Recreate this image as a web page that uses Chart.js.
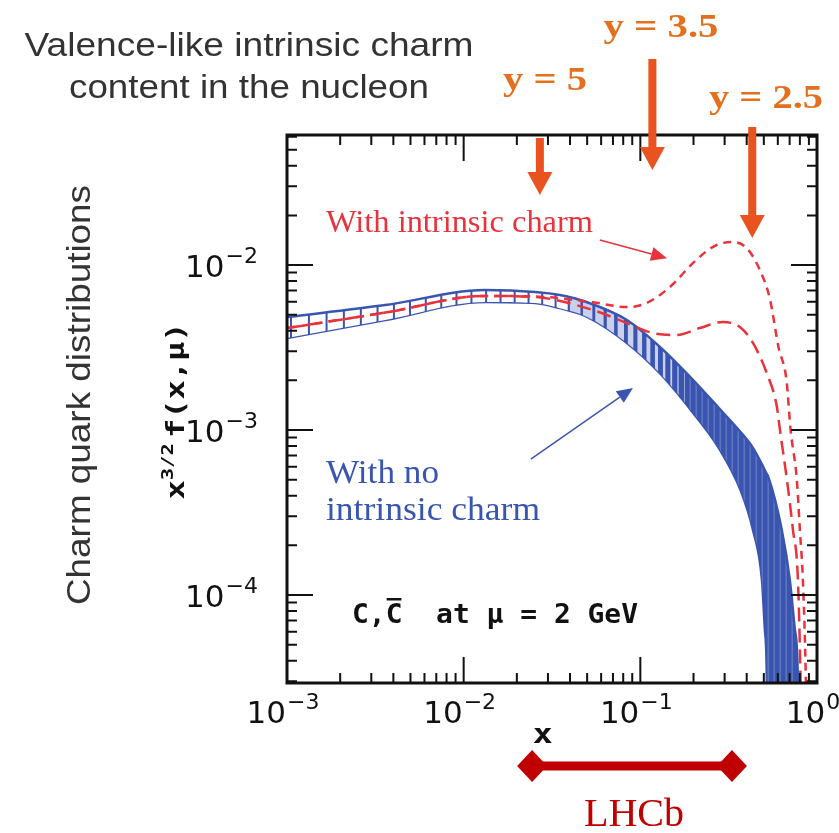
<!DOCTYPE html>
<html>
<head>
<meta charset="utf-8">
<script src="https://cdn.jsdelivr.net/npm/chart.js@4.4.1/dist/chart.umd.min.js"></script>
<style>
  html, body { margin: 0; padding: 0; background: #fff; }
  #wrap { width: 839px; height: 833px; position: relative; }
</style>
</head>
<body>
<div id="wrap"><canvas id="charm-chart"></canvas></div>
<script>
// axis ranges and major ticks
var xRange = [1e-3, 1];
var yRange = [2.93e-5, 0.0614];
var xMajorTicks = [1e-3, 1e-2, 1e-1, 1];
var xTickExponents = ['\u22123', '\u22122', '\u22121', '0'];
var yMajorTicks = [1e-2, 1e-3, 1e-4];
var yTickExponents = ['\u22122', '\u22123', '\u22124'];

// no intrinsic charm: uncertainty band (upper / lower edge)
var bandX     = [0.001, 0.0036, 0.0132, 0.0254, 0.035, 0.05, 0.084, 0.129, 0.199, 0.28, 0.37, 0.434, 0.488, 0.507, 0.52, 0.53, 0.632, 0.702, 0.75, 0.78, 0.8];
var bandUpper = [4.84e-3, 5.72e-3, 7.05e-3, 6.86e-3, 6.58e-3, 5.95e-3, 4.64e-3, 3.19e-3, 2.01e-3, 1.35e-3, 9.7e-4, 7.8e-4, 6.2e-4, 5.7e-4, 5.4e-4, 5.2e-4, 2.48e-4, 1.23e-4, 6.14e-5, 3.05e-5, 1e-6];
var bandLower = [3.61e-3, 4.64e-3, 5.97e-3, 5.89e-3, 5.48e-3, 4.85e-3, 3.37e-3, 2.21e-3, 1.27e-3, 7.7e-4, 4.3e-4, 2.48e-4, 1.23e-4, 6.14e-5, 3.05e-5, 1e-6, 1e-6, 1e-6, 1e-6, 1e-6, 1e-6];

// with intrinsic charm, larger normalisation (short dashes)
var icHighX = [0.001, 0.0036, 0.0132, 0.0254, 0.054, 0.084, 0.109, 0.147, 0.199, 0.258, 0.328, 0.399, 0.475, 0.543, 0.605, 0.672, 0.709, 0.769, 0.8, 0.832, 0.865, 0.88];
var icHighY = [4.15e-3, 5.15e-3, 6.5e-3, 6.45e-3, 5.95e-3, 5.56e-3, 5.9e-3, 7.36e-3, 1.03e-2, 1.29e-2, 1.38e-2, 1.27e-2, 9.33e-3, 6.14e-3, 3.19e-3, 2.0e-3, 1.0e-3, 4.97e-4, 2.48e-4, 1.23e-4, 3.05e-5, 1e-5];

// with intrinsic charm, smaller normalisation (long dashes)
var icLowX = [0.001, 0.0036, 0.0132, 0.0254, 0.054, 0.084, 0.118, 0.161, 0.217, 0.293, 0.366, 0.434, 0.52, 0.593, 0.617, 0.676, 0.731, 0.78, 0.807, 0.82];
var icLowY = [4.15e-3, 5.15e-3, 6.5e-3, 6.4e-3, 5.33e-3, 4.45e-3, 3.87e-3, 3.77e-3, 4.15e-3, 4.52e-3, 4.21e-3, 3.37e-3, 2.21e-3, 1.38e-3, 1.0e-3, 4.97e-4, 2.48e-4, 1.23e-4, 3.05e-5, 1e-5];

// rapidity markers and LHCb coverage
var rapidityLabels = ['y = 5', 'y = 3.5', 'y = 2.5'];
var rapidityX = [0.027, 0.117, 0.43];
var lhcbRange = [0.0244, 0.33];

function pairs(xs, ys) {
    return xs.map(function(x, i) { return { x: x, y: ys[i] }; });
}

var BLUE = '#3a55b0';
var RED = '#e8323c';
var ORANGE_ARROW = '#e8531f';
var ORANGE_TEXT = '#e2701f';
var DARK_RED = '#c00000';

// hatched fill for the band, denser towards large x
var hatchCache = null;
function bandHatch(c) {
    var chart = c.chart;
    var area = chart.chartArea;
    if (!area) return 'rgba(58,85,176,0.5)';
    if (hatchCache) return hatchCache;
    var cv = document.createElement('canvas');
    cv.width = chart.width; cv.height = 4;
    var g = cv.getContext('2d');
    g.fillStyle = '#ffffff';
    g.fillRect(0, 0, cv.width, 4);
    var span = area.right - area.left;
    var px = area.left + 3;
    while (px < area.right) {
        var d = px - area.left, s, w;
        if (d < 0.52 * span) {
            s = 18 - 5 * d / (0.52 * span); w = 2;
            g.fillStyle = BLUE; g.fillRect(px, 0, w, 4);
        } else if (d < 0.74 * span) {
            var t = (d - 0.52 * span) / (0.22 * span);
            s = 13 - 7 * t; w = 2 + 3.5 * t;
            g.fillStyle = '#c9d0ec'; g.fillRect(px, 0, s, 4);
            g.fillStyle = BLUE; g.fillRect(px, 0, w, 4);
        } else {
            s = 6;
            g.fillStyle = BLUE; g.fillRect(px, 0, s, 4);
            g.fillStyle = '#6a80c9'; g.fillRect(px + s - 1, 0, 1, 4);
        }
        px += s;
    }
    hatchCache = chart.ctx.createPattern(cv, 'repeat');
    return hatchCache;
}

// draw text squeezed/stretched to a given width
function fitText(ctx, text, x, y, width, font, color, align) {
    ctx.save();
    ctx.font = font;
    ctx.fillStyle = color;
    ctx.textBaseline = 'alphabetic';
    var w = ctx.measureText(text).width;
    var s = width / w;
    var left = align === 'left' ? x : x - width / 2;
    ctx.translate(left, y);
    ctx.scale(s, 1);
    ctx.textAlign = 'left';
    ctx.fillText(text, 0, 0);
    ctx.restore();
}

function arrow(ctx, x1, y1, x2, y2, color, lw, headLen, headHalf) {
    var ang = Math.atan2(y2 - y1, x2 - x1);
    var bx = x2 - headLen * Math.cos(ang), by = y2 - headLen * Math.sin(ang);
    ctx.save();
    ctx.strokeStyle = color; ctx.fillStyle = color; ctx.lineWidth = lw;
    ctx.beginPath(); ctx.moveTo(x1, y1); ctx.lineTo(bx, by); ctx.stroke();
    ctx.beginPath();
    ctx.moveTo(x2, y2);
    ctx.lineTo(bx + headHalf * Math.sin(ang), by - headHalf * Math.cos(ang));
    ctx.lineTo(bx - headHalf * Math.sin(ang), by + headHalf * Math.cos(ang));
    ctx.closePath(); ctx.fill();
    ctx.restore();
}

var BASE_FONT = '31px "DejaVu Sans"';
var EXP_FONT = '22px "DejaVu Sans"';
function powerLabel(ctx, exp) {
    ctx.font = BASE_FONT;
    var w1 = ctx.measureText('10').width;
    ctx.font = EXP_FONT;
    var w2 = ctx.measureText(exp).width;
    return { w1: w1, w2: w2, total: w1 + w2 + 1 };
}
function drawPower(ctx, exp, left, baseline) {
    var m = powerLabel(ctx, exp);
    ctx.fillStyle = '#111';
    ctx.textAlign = 'left';
    ctx.font = BASE_FONT;
    ctx.fillText('10', left, baseline);
    ctx.font = EXP_FONT;
    ctx.fillText(exp, left + m.w1 + 1, baseline - 14);
}

var framePlugin = {
    id: 'frame',
    afterDraw: function(chart) {
        var ctx = chart.ctx, a = chart.chartArea;
        var xs = chart.scales.x, ys = chart.scales.y;
        ctx.save();
        ctx.strokeStyle = '#111';

        // inward tick marks on all four sides
        ctx.lineWidth = 2;
        for (var e = -3; e <= 0; e++) {
            for (var m = 1; m <= 9; m++) {
                var v = m * Math.pow(10, e);
                if (v > xRange[1] * 1.0001) break;
                var px = xs.getPixelForValue(v);
                var len = m === 1 ? 26 : 10;
                ctx.beginPath();
                ctx.moveTo(px, a.bottom); ctx.lineTo(px, a.bottom - len);
                ctx.moveTo(px, a.top); ctx.lineTo(px, a.top + len);
                ctx.stroke();
            }
        }
        for (var e2 = -5; e2 <= -1; e2++) {
            for (var m2 = 1; m2 <= 9; m2++) {
                var v2 = m2 * Math.pow(10, e2);
                if (v2 < yRange[0] || v2 > yRange[1]) continue;
                var py = ys.getPixelForValue(v2);
                var len2 = m2 === 1 ? 26 : 10;
                ctx.beginPath();
                ctx.moveTo(a.left, py); ctx.lineTo(a.left + len2, py);
                ctx.moveTo(a.right, py); ctx.lineTo(a.right - len2, py);
                ctx.stroke();
            }
        }
        ctx.lineWidth = 3;
        ctx.strokeRect(a.left, a.top, a.right - a.left, a.bottom - a.top);

        // tick labels
        xMajorTicks.forEach(function(v, i) {
            var px = xs.getPixelForValue(v);
            var m = powerLabel(ctx, xTickExponents[i]);
            drawPower(ctx, xTickExponents[i], px - m.total / 2 - 4, a.bottom + 40);
        });
        yMajorTicks.forEach(function(v, i) {
            var py = ys.getPixelForValue(v);
            var m = powerLabel(ctx, yTickExponents[i]);
            drawPower(ctx, yTickExponents[i], a.left - 29 - m.total, py + 12);
        });

        // axis titles
        fitText(ctx, 'x', xs.getPixelForValue(0.028), a.bottom + 60, 20, 'bold 27px "DejaVu Sans Mono"', '#111', 'center');
        ctx.save();
        ctx.translate(a.left - 103, (a.top + a.bottom) / 2 + 2);
        ctx.rotate(-Math.PI / 2);
        ctx.fillStyle = '#111';
        ctx.font = 'bold 25px "DejaVu Sans Mono"';
        var w1 = ctx.measureText('x').width;
        var w3 = ctx.measureText('f(x,\u03bc)').width;
        ctx.font = 'bold 16px "DejaVu Sans Mono"';
        var w2 = ctx.measureText('3/2').width;
        var tot = w1 + w2 + w3 + 4;
        ctx.scale(177 / tot, 1);
        var sx = -tot / 2;
        ctx.font = 'bold 25px "DejaVu Sans Mono"';
        ctx.fillText('x', sx, 0);
        ctx.font = 'bold 16px "DejaVu Sans Mono"';
        ctx.fillText('3/2', sx + w1, -11);
        ctx.font = 'bold 25px "DejaVu Sans Mono"';
        ctx.fillText('f(x,\u03bc)', sx + w1 + w2 + 4, 0);
        ctx.restore();

        // outer label and title
        ctx.save();
        ctx.translate(90, 395);
        ctx.rotate(-Math.PI / 2);
        fitText(ctx, 'Charm quark distributions', 0, 0, 420, '33px "Liberation Sans", Arial, sans-serif', '#333', 'center');
        ctx.restore();
        fitText(ctx, 'Valence-like intrinsic charm', 249, 56, 449, '33px "Liberation Sans", Arial, sans-serif', '#333', 'center');
        fitText(ctx, 'content in the nucleon', 249, 98, 360, '33px "Liberation Sans", Arial, sans-serif', '#333', 'center');

        // curve labels and pointers
        fitText(ctx, 'With intrinsic charm', 326, 232, 267, '32px "Liberation Serif", serif', RED, 'left');
        arrow(ctx, xs.getPixelForValue(0.059), ys.getPixelForValue(0.0142),
              xs.getPixelForValue(0.1416), ys.getPixelForValue(0.011), RED, 1.5, 16, 7);
        fitText(ctx, 'With no', 326, 483, 113, '33px "Liberation Serif", serif', BLUE, 'left');
        fitText(ctx, 'intrinsic charm', 326, 520, 214, '33px "Liberation Serif", serif', BLUE, 'left');
        arrow(ctx, xs.getPixelForValue(0.024), ys.getPixelForValue(6.67e-4),
              xs.getPixelForValue(0.0908), ys.getPixelForValue(1.8e-3), BLUE, 1.5, 16, 7);

        // C, C-bar at mu = 2 GeV
        ctx.save();
        ctx.font = 'bold 27px "DejaVu Sans Mono"';
        var p1 = 'C,', p2 = 'C', p3 = '  at \u03bc = 2 GeV';
        var q1 = ctx.measureText(p1).width, q2 = ctx.measureText(p2).width, q3 = ctx.measureText(p3).width;
        var scl = 286 / (q1 + q2 + q3);
        ctx.translate(352, 623);
        ctx.scale(scl, 1);
        ctx.fillStyle = '#111';
        ctx.fillText(p1, 0, 0);
        ctx.fillText(p2, q1, 0);
        ctx.fillText(p3, q1 + q2, 0);
        ctx.fillRect(q1 + 1, -25, q2 - 2, 2.5);
        ctx.restore();

        // rapidity arrows
        var shaftTop = [a.top + 3, a.top - 76, a.top - 8];
        var headTop = [a.top + 37, a.top + 12, a.top + 80];
        var tip = [a.top + 60, a.top + 35, a.top + 103];
        var labelPos = [[545, 90], [661, 37], [766, 108]];
        var labelW = [84, 115, 114];
        rapidityX.forEach(function(v, i) {
            var px = xs.getPixelForValue(v);
            ctx.fillStyle = ORANGE_ARROW;
            ctx.fillRect(px - 4, shaftTop[i], 8, headTop[i] - shaftTop[i] + 1);
            ctx.beginPath();
            ctx.moveTo(px - 12.5, headTop[i]);
            ctx.lineTo(px + 12.5, headTop[i]);
            ctx.lineTo(px, tip[i]);
            ctx.closePath();
            ctx.fill();
            fitText(ctx, rapidityLabels[i], labelPos[i][0], labelPos[i][1], labelW[i], 'bold 34px "Liberation Serif", serif', ORANGE_TEXT, 'center');
        });

        // LHCb coverage bar
        var l = xs.getPixelForValue(lhcbRange[0]), r = xs.getPixelForValue(lhcbRange[1]);
        var by = a.bottom + 83;
        ctx.fillStyle = DARK_RED;
        ctx.fillRect(l, by - 4.5, r - l, 9);
        [l, r].forEach(function(cx) {
            ctx.beginPath();
            ctx.moveTo(cx - 15, by); ctx.lineTo(cx, by - 16);
            ctx.lineTo(cx + 15, by); ctx.lineTo(cx, by + 16);
            ctx.closePath(); ctx.fill();
        });
        fitText(ctx, 'LHCb', (l + r) / 2 + 2, by + 60, 100, '40px "Liberation Serif", serif', DARK_RED, 'center');

        ctx.restore();
    }
};

var ctx = document.getElementById('charm-chart').getContext('2d');
var chart = new Chart(ctx, {
    type: 'line',
    data: {
        datasets: [{
            label: 'No IC (upper)',
            data: pairs(bandX, bandUpper),
            borderColor: BLUE, borderWidth: 2.5,
            backgroundColor: bandHatch,
            fill: '+1',
            order: 2
        }, {
            label: 'No IC (lower)',
            data: pairs(bandX, bandLower),
            borderColor: BLUE, borderWidth: 2.5,
            fill: false,
            order: 2
        }, {
            label: 'IC (long dash)',
            data: pairs(icLowX, icLowY),
            borderColor: RED, borderWidth: 2.5,
            borderDash: [14, 7],
            fill: false,
            order: 1
        }, {
            label: 'IC (short dash)',
            data: pairs(icHighX, icHighY),
            borderColor: RED, borderWidth: 2.5,
            borderDash: [8, 6],
            fill: false,
            order: 0
        }]
    },
    options: {
        responsive: true,
        maintainAspectRatio: false,
        animation: false,
        layout: { padding: { left: 287, right: 22, top: 135, bottom: 150 } },
        elements: {
            point: { radius: 0 },
            line: { cubicInterpolationMode: 'monotone' }
        },
        datasets: { line: { clip: 0 } },
        scales: {
            x: { type: 'logarithmic', min: xRange[0], max: xRange[1], display: false },
            y: { type: 'logarithmic', min: yRange[0], max: yRange[1], display: false }
        },
        plugins: {
            legend: { display: false },
            tooltip: { enabled: false }
        }
    },
    plugins: [framePlugin]
});
</script>
</body>
</html>
